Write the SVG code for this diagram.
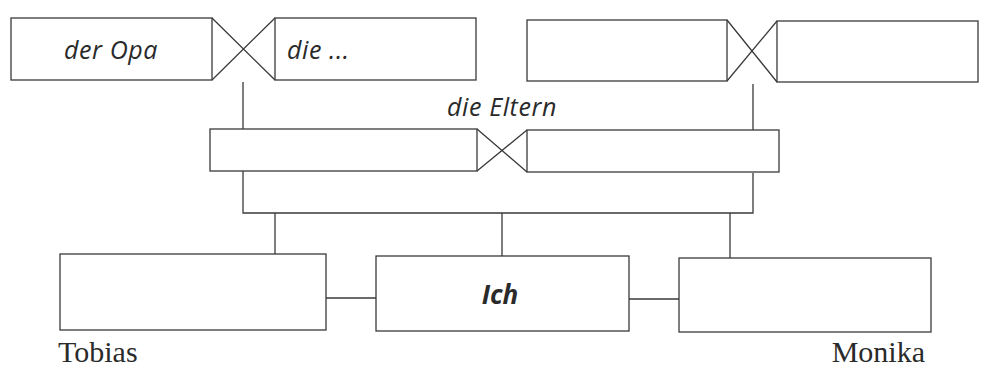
<svg xmlns="http://www.w3.org/2000/svg" width="983" height="377" viewBox="0 0 983 377">
<style>
.box{fill:#fff;stroke:#3a3a3a;stroke-width:1.3}
.ln{fill:none;stroke:#3a3a3a;stroke-width:1.3}
.it{font-family:"Open Sans","DejaVu Sans",sans-serif;font-style:italic;font-size:25px;letter-spacing:0.6px;fill:#2a2a2a}
.bi{font-family:"Open Sans","DejaVu Sans",sans-serif;font-style:italic;font-weight:bold;font-size:26px;fill:#2a2a2a}
.sf{font-family:"Liberation Serif","Times New Roman",serif;font-size:30px;fill:#2a2a2a}
</style>
<rect width="983" height="377" fill="#fff"/>
<g id="connectors">
<path class="ln" d="M212,18 L275,80 M212,80 L275,18"/>
<path class="ln" d="M727,20 L777,82 M727,81 L777,21"/>
<path class="ln" d="M477,129 L527,172 M477,171 L527,130"/>
<path class="ln" d="M243,82 V129 M753,84 V130"/>
<path class="ln" d="M243,171 V213 H753 V173"/>
<path class="ln" d="M275,213 V254 M502,213 V256 M730,213 V258"/>
<path class="ln" d="M326,298 H376 M629,299 H679"/>
</g>
<g id="opa"><rect class="box" x="11" y="18" width="201" height="62"/><text class="it" x="111" y="59" text-anchor="middle">der Opa</text></g>
<g id="oma"><rect class="box" x="275" y="18" width="201" height="62"/><text class="it" x="287" y="59">die ...</text></g>
<g id="grossvater2"><rect class="box" x="527" y="20" width="200" height="61"/></g>
<g id="grossmutter2"><rect class="box" x="777" y="21" width="201" height="61"/></g>
<g id="eltern-label"><text class="it" x="502" y="116" text-anchor="middle">die Eltern</text></g>
<g id="vater"><rect class="box" x="210" y="129" width="267" height="42"/></g>
<g id="mutter"><rect class="box" x="527" y="130" width="252" height="42"/></g>
<g id="tobias"><rect class="box" x="60" y="254" width="266" height="76"/><text class="sf" x="58" y="362">Tobias</text></g>
<g id="ich"><rect class="box" x="376" y="256" width="253" height="75"/><text class="bi" x="500" y="304" text-anchor="middle">Ich</text></g>
<g id="monika"><rect class="box" x="679" y="258" width="252" height="74"/><text class="sf" x="925" y="362" text-anchor="end">Monika</text></g>
</svg>
